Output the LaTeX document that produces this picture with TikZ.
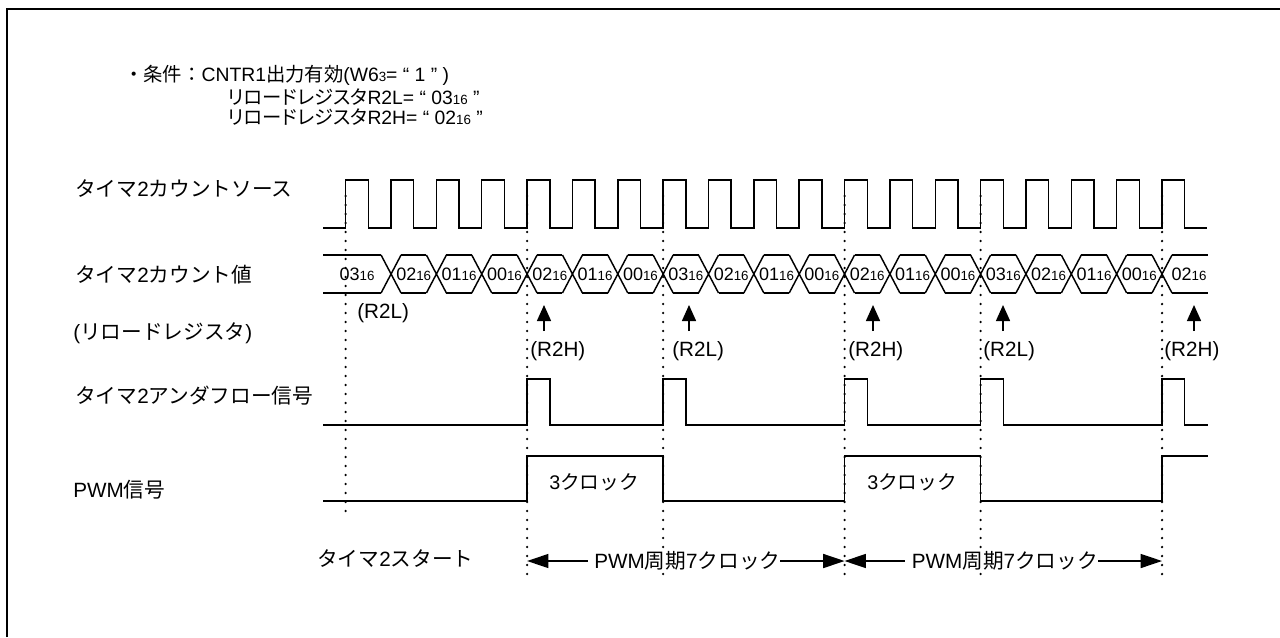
\documentclass[tikz,border=0pt]{standalone}
\usepackage{fontspec}
\setmainfont{Liberation Sans}
\newfontfamily\jpf{Noto Sans CJK JP}
\newfontfamily\jpp[RawFeature=+palt]{Noto Sans CJK JP}
\usetikzlibrary{arrows.meta}
\newcommand\J[1]{{\jpf #1}}
\newcommand\JP[1]{{\jpp #1}}
\newcommand\hx[1]{{\fontsize{13.5}{14}\selectfont #1}{\fontsize{10}{11}\selectfont 16}}
\newcommand\sm[1]{{\fontsize{10}{11}\selectfont #1}}
\begin{document}
\begin{tikzpicture}[x=0.75pt,y=-0.75pt,
  sig/.style={line width=1.1pt, line join=miter},
  frame/.style={line width=1.6pt},
  dots/.style={line width=1.9pt, line cap=round, dash pattern=on 0pt off 6.75pt},
  lbl/.style={anchor=west, inner sep=0pt, font=\fontsize{15.5}{18}\selectfont},
  klbl/.style={anchor=west, inner sep=0pt, font=\fontsize{14.8}{18}\selectfont},
  cond/.style={anchor=west, inner sep=0pt, font=\fontsize{14.5}{16}\selectfont},
  val/.style={inner sep=0pt},
  uparrow/.style={line width=1.1pt, -{Triangle[length=12pt,width=10.5pt]}},
  period/.style={line width=1.1pt, {Triangle[length=16pt,width=10.5pt]}-{Triangle[length=16pt,width=10.5pt]}},
  plbl/.style={fill=white, inner xsep=0pt, inner ysep=1pt, font=\fontsize{15.5}{18}\selectfont}]
\useasboundingbox (0,0) rectangle (1280,637);

% frame (top and left edges)
\draw[frame] (7,637) -- (7,9) -- (1280,9);

% condition text
\node[cond] (c1) at (124,75) {\J{・条件：}CNTR1\J{出力有効}(W6\sm{3}= “ 1 ” )};
\node[cond] (c2) at (228,97) {\JP{リロードレジスタ}R2L= “ 03\sm{16} ”};
\node[cond] (c3) at (228,117) {\JP{リロードレジスタ}R2H= “ 02\sm{16} ”};

% left labels
\node[lbl] (l1) at (75,189) {\J{タイマ}2\J{カウントソース}};
\node[lbl] (l2) at (75,275) {\J{タイマ}2\J{カウント値}};
\node[lbl] (l3) at (73,333) {(\J{リロードレジスタ})};
\node[lbl] (l4) at (75,396) {\J{タイマ}2\J{アンダフロー信号}};
\node[lbl] (l5) at (73,490) {PWM\J{信号}};
\node[lbl] (l6) at (317,559) {\J{タイマ}2\J{スタート}};

% dotted guide lines
\draw[dots] (345.7,196) -- (345.7,516);
\foreach \x in {527.1,663.15,844.55,980.6,1162} {
  \draw[dots] (\x,196) -- (\x,582);
}

% clock
\draw[sig] (323,228) -- (345.7,228)
  foreach \k in {0,...,18} { -- ({345.7+45.35*\k},180) -- ({368.375+45.35*\k},180)
     -- ({368.375+45.35*\k},228) -- ({391.05+45.35*\k},228) };

% count value bus
\foreach \k in {1,...,18} {
  \draw[sig] ({345.7+45.35*\k-10},255) -- ({345.7+45.35*\k+10},293)
             ({345.7+45.35*\k-10},293) -- ({345.7+45.35*\k+10},255);
}
\foreach \k in {1,...,17} {
  \draw[sig] ({345.7+45.35*\k+10},255) -- ({345.7+45.35*(\k+1)-10},255)
             ({345.7+45.35*\k+10},293) -- ({345.7+45.35*(\k+1)-10},293);
}
\draw[sig] (323,255) -- (381.05,255) (323,293) -- (381.05,293)
           (1172,255) -- (1208,255) (1172,293) -- (1208,293);
\foreach \v [count=\i from 0] in {03,02,01,00,02,01,00,03,02,01,00,02,01,00,03,02,01,00,02} {
  \pgfmathsetmacro\cx{\i==0 ? 357 : (\i==18 ? 1189 : 368.375+45.35*\i)}
  \node[val] (v\i) at (\cx,274) {\hx{\v}};
}

% reload register labels and arrows
\node[lbl] (r0) at (357,313) {(R2L)};
\foreach \ax/\lx/\t [count=\i] in {544/530/R2H, 689/672/R2L, 873/848/R2H, 1003/983/R2L, 1194/1164/R2H} {
  \coordinate (as\i) at (\ax,331);
  \coordinate (ae\i) at (\ax,305);
  \draw[uparrow] (as\i) -- (ae\i);
  \node[lbl] (rl\i) at (\lx,351) {(\t)};
}

% underflow signal
\draw[sig] (323,425) -- (527.1,425) -- (527.1,379) -- (549.8,379) -- (549.8,425)
  -- (663.15,425) -- (663.15,379) -- (685.85,379) -- (685.85,425)
  -- (844.55,425) -- (844.55,379) -- (867.25,379) -- (867.25,425)
  -- (980.6,425) -- (980.6,379) -- (1003.3,379) -- (1003.3,425)
  -- (1162,425) -- (1162,379) -- (1184.7,379) -- (1184.7,425) -- (1208,425);

% PWM signal
\draw[sig] (323,501) -- (527.1,501) -- (527.1,456) -- (663.15,456) -- (663.15,501)
  -- (844.55,501) -- (844.55,456) -- (980.6,456) -- (980.6,501)
  -- (1162,501) -- (1162,456) -- (1208,456);
\node[klbl] (k1) at (549,482) {3\J{クロック}};
\node[klbl] (k2) at (867,482) {3\J{クロック}};

% PWM period arrows
\coordinate (p0) at (527.1,561);
\coordinate (p1) at (844.55,561);
\coordinate (p2) at (1162,561);
\draw[period] (p0) -- (p1);
\draw[period] (p1) -- (p2);
\node[plbl] (pt1) at (684,561) {\hspace{5pt}PWM\J{周期}7\J{クロック}};
\node[plbl] (pt2) at (1001.5,561) {\hspace{5pt}PWM\J{周期}7\J{クロック}};
\end{tikzpicture}
\end{document}
